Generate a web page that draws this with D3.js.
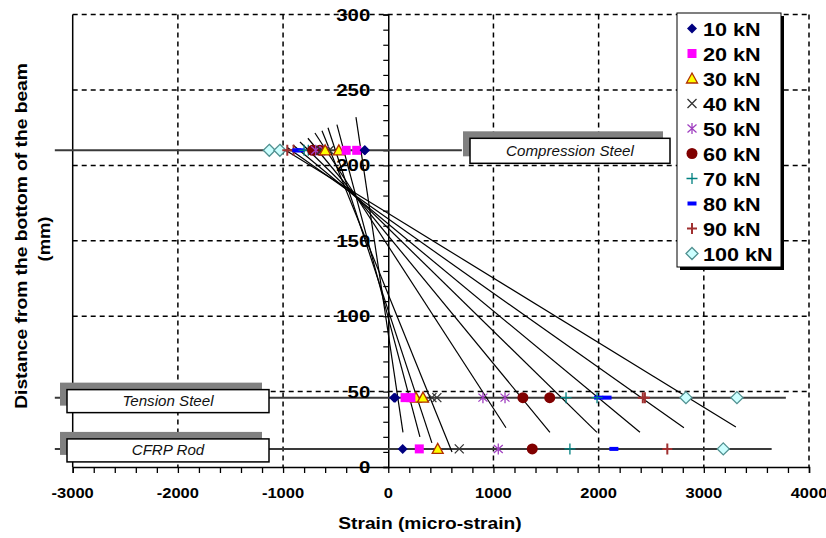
<!DOCTYPE html>
<html>
<head>
<meta charset="utf-8">
<script src="https://cdn.jsdelivr.net/npm/d3@7"></script>
<style>
  body { margin: 0; background: #fff; }
  text { font-family: "Liberation Sans", Arial, sans-serif; }
</style>
</head>
<body>
<svg id="chart" width="826" height="538"></svg>
<script>
// load steps
const loads = ["10 kN", "20 kN", "30 kN", "40 kN", "50 kN", "60 kN", "70 kN", "80 kN", "90 kN", "100 kN"];
const markerTypes = ["diamond", "square", "triangle", "x", "star", "circle", "plus", "dash", "plus2", "diamond2"];

// gauge heights (mm from bottom)
const compDepth = 210, tensDepth = 46, cfrpDepth = 12;

// measured strains, two gauges at each steel layer
const compStrain = [[-221, -225], [-400, -300], [-600, -470], [-640, -560], [-690, -610],
                    [-720, -650], [-800, -760], [-870, -840], [-960, -900], [-1131, -1030]];
const tensStrain = [[55, 65], [160, 215], [263, 330], [415, 462], [900, 1110],
                    [1280, 1535], [1690, 1985], [2000, 2080], [2420, 2440], [2830, 3315]];
const cfrpStrain = [137, 295, 470, 675, 1046, 1369, 1727, 2145, 2653, 3185];

// fitted strain profiles: [strain, depth] at top and bottom end
const fitTop = [[-307, 232], [-488, 227], [-573, 225], [-630, 223], [-697, 221.5],
                [-764, 218], [-839, 215.5], [-906, 213.5], [-963, 212], [-1011, 211.5]];
const fitBot = [[140, 23], [301, 20], [415, 16], [606, 10], [1119, 26],
                [1537, 23], [1984, 23], [2393, 23], [2811, 26], [3305, 26.5]];

// reference lines for the bars: [from, to] in strain
const compLine = [-3170, 700], tensLine = [-3170, 3780], cfrpLine = [-3170, 3645];

const xTicks = [-3000, -2000, -1000, 0, 1000, 2000, 3000, 4000];
const yTicks = [0, 50, 100, 150, 200, 250, 300];

let cfg = {
  width: 826,
  height: 538,
  left: 72.7,
  right: 809,
  top: 14.6,
  bottom: 467,
  svg: d3.select("#chart")
};

let x = d3.scaleLinear().domain([-3000, 4000]).range([cfg.left, cfg.right]);
let y = d3.scaleLinear().domain([0, 300]).range([cfg.bottom, cfg.top]);

let svg = cfg.svg;

// stretch text a bit, the source font is wider than Arial
function widen(sel, k) {
  sel.each(function() {
    let w = this.getComputedTextLength();
    d3.select(this).attr("textLength", w * k).attr("lengthAdjust", "spacingAndGlyphs");
  });
}

// grid
let grid = svg.append("g").attr("stroke", "#000").attr("stroke-width", 1.5)
  .attr("stroke-dasharray", "5,4");
grid.selectAll(".gx").data(xTicks.filter(d => d !== 0 && d !== -3000)).enter()
  .append("line")
  .attr("x1", d => x(d)).attr("x2", d => x(d))
  .attr("y1", y(300)).attr("y2", y(0));
grid.selectAll(".gy").data(yTicks.filter(d => d !== 0)).enter()
  .append("line")
  .attr("x1", x(-3000)).attr("x2", x(4000))
  .attr("y1", d => y(d)).attr("y2", d => y(d));

// left frame
svg.append("line")
  .attr("x1", x(-3000)).attr("x2", x(-3000)).attr("y1", y(300)).attr("y2", y(0))
  .attr("stroke", "#000").attr("stroke-width", 1.5);

// x axis with minor ticks
let xAxis = svg.append("g").attr("transform", `translate(0,${y(0)})`)
  .call(d3.axisBottom(x).tickValues(d3.range(-3000, 4001, 200)).tickSize(6).tickFormat(""));
xAxis.select(".domain").attr("stroke-width", 1.5);
xAxis.selectAll(".tick line").attr("stroke-width", 1.3);

// y axis at zero strain
let yAxis = svg.append("g").attr("transform", `translate(${x(0)},0)`)
  .call(d3.axisLeft(y).tickValues(d3.range(0, 301, 10)).tickSize(5).tickFormat(""));
yAxis.select(".domain").attr("stroke-width", 1.5);
yAxis.selectAll(".tick line").attr("stroke-width", 1.2);

// steel / rod reference lines
let refLines = [[compLine, compDepth], [tensLine, tensDepth], [cfrpLine, cfrpDepth]];
svg.selectAll(".ref").data(refLines).enter()
  .append("line")
  .attr("x1", d => x(d[0][0])).attr("x2", d => x(d[0][1]))
  .attr("y1", d => y(d[1])).attr("y2", d => y(d[1]))
  .attr("stroke", "#3a3a3a").attr("stroke-width", 2);

// fitted lines
svg.selectAll(".fit").data(loads).enter()
  .append("line")
  .attr("x1", (d, i) => x(fitTop[i][0])).attr("y1", (d, i) => y(fitTop[i][1]))
  .attr("x2", (d, i) => x(fitBot[i][0])).attr("y2", (d, i) => y(fitBot[i][1]))
  .attr("stroke", "#000").attr("stroke-width", 1.2);

function drawMarker(g, type) {
  switch (type) {
    case "diamond":
      g.append("path").attr("d", "M0,-5L5,0L0,5L-5,0Z").attr("fill", "#000080");
      break;
    case "square":
      g.append("rect").attr("x", -4.5).attr("y", -4.5).attr("width", 9).attr("height", 9).attr("fill", "#ff00ff");
      break;
    case "triangle":
      g.append("path").attr("d", "M0,-5.5L5.5,4.5L-5.5,4.5Z").attr("fill", "#ffff00")
        .attr("stroke", "#b03000").attr("stroke-width", 1.3);
      break;
    case "x":
      g.append("path").attr("d", "M-4.5,-4.5L4.5,4.5M-4.5,4.5L4.5,-4.5").attr("stroke", "#333").attr("stroke-width", 1.3);
      break;
    case "star":
      g.append("path").attr("d", "M-4.5,-4L4.5,4M-4.5,4L4.5,-4M0,-5.5V5.5").attr("stroke", "#a040c0").attr("stroke-width", 1.3);
      break;
    case "circle":
      g.append("circle").attr("r", 5.5).attr("fill", "#800000");
      break;
    case "plus":
      g.append("path").attr("d", "M-5.5,0H5.5M0,-5.5V5.5").attr("stroke", "#008080").attr("stroke-width", 1.3);
      break;
    case "dash":
      g.append("rect").attr("x", -4.5).attr("y", -2).attr("width", 9).attr("height", 4).attr("fill", "#0000ff");
      break;
    case "plus2":
      g.append("path").attr("d", "M-5,0H5M0,-5.5V5.5").attr("stroke", "#a03030").attr("stroke-width", 2);
      break;
    case "diamond2":
      g.append("path").attr("d", "M0,-6L6,0L0,6L-6,0Z").attr("fill", "#ccffff")
        .attr("stroke", "#509090").attr("stroke-width", 1.3);
      break;
  }
}

// points: series drawn in legend order
let points = [];
loads.forEach((l, i) => {
  compStrain[i].forEach(s => points.push({ i: i, s: s, d: compDepth }));
  tensStrain[i].forEach(s => points.push({ i: i, s: s, d: tensDepth }));
  points.push({ i: i, s: cfrpStrain[i], d: cfrpDepth });
});
points.sort((a, b) => b.i - a.i);
svg.selectAll(".pt").data(points).enter()
  .append("g")
  .attr("transform", d => `translate(${x(d.s)},${y(d.d)})`)
  .each(function(d) { drawMarker(d3.select(this), markerTypes[d.i]); });

// label boxes
const boxLabels = ["Compression Steel", "Tension Steel", "CFRP Rod"];
let boxes = [
  { text: boxLabels[0], x0: 470, w: 200, d: compDepth, h: 25 },
  { text: boxLabels[1], x0: 67, w: 202, d: tensDepth, h: 23 },
  { text: boxLabels[2], x0: 67, w: 202, d: cfrpDepth, h: 23 }
];
boxes.forEach(b => {
  let top = y(b.d) - 11;
  if (b.d === compDepth) top = y(b.d) - 12;
  if (b.d === tensDepth) top = y(b.d) - 8;
  if (b.d === cfrpDepth) top = y(b.d) - 10;
  svg.append("rect").attr("x", b.x0 - 7).attr("y", top - 7).attr("width", b.w).attr("height", b.h)
    .attr("fill", "#808080");
  svg.append("rect").attr("x", b.x0).attr("y", top).attr("width", b.w).attr("height", b.h)
    .attr("fill", "#fff").attr("stroke", "#000").attr("stroke-width", 1.5);
  svg.append("text").attr("x", b.x0 + b.w / 2).attr("y", top + b.h / 2 + 5)
    .attr("text-anchor", "middle").attr("font-style", "italic").attr("font-size", 14)
    .attr("fill", "#111").text(b.text).call(widen, 1.08);
});

// tick labels
svg.selectAll(".xl").data(xTicks).enter()
  .append("text")
  .attr("x", d => x(d)).attr("y", y(0) + 31)
  .attr("text-anchor", "middle").attr("font-weight", "bold").attr("font-size", 15)
  .text(d => d).call(widen, 1.1);
svg.selectAll(".yl").data(yTicks).enter()
  .append("text")
  .attr("x", x(0) - 18).attr("y", d => y(d) + 6)
  .attr("text-anchor", "end").attr("font-weight", "bold").attr("font-size", 17)
  .text(d => d).call(widen, 1.2);

// axis titles
svg.append("text").attr("x", 430).attr("y", 529)
  .attr("text-anchor", "middle").attr("font-weight", "bold").attr("font-size", 16)
  .text("Strain (micro-strain)").call(widen, 1.2);
let yt = svg.append("text").attr("transform", "translate(27,236) rotate(-90)")
  .attr("text-anchor", "middle").attr("font-weight", "bold").attr("font-size", 16);
yt.append("tspan").attr("x", 0).attr("y", 0).text("Distance from the bottom of the beam");
svg.append("text").attr("transform", "translate(50,239) rotate(-90)")
  .attr("text-anchor", "middle").attr("font-weight", "bold").attr("font-size", 16)
  .text("(mm)").call(widen, 1.15);
yt.select("tspan").each(function() {
  let w = this.getComputedTextLength();
  d3.select(this).attr("textLength", w * 1.2).attr("lengthAdjust", "spacingAndGlyphs");
});

// legend
let legend = svg.append("g").attr("transform", "translate(677,13)");
legend.append("rect").attr("x", 3).attr("y", 3).attr("width", 104).attr("height", 254).attr("fill", "#000");
legend.append("rect").attr("width", 104).attr("height", 254).attr("fill", "#fff")
  .attr("stroke", "#000").attr("stroke-width", 1);
let items = legend.selectAll(".li").data(loads).enter()
  .append("g")
  .attr("transform", (d, i) => `translate(0,${15.5 + i * 25})`);
items.append("g").attr("transform", "translate(15,0)")
  .each(function(d, i) { drawMarker(d3.select(this), markerTypes[i]); });
items.append("text").attr("x", 26).attr("y", 7)
  .attr("font-weight", "bold").attr("font-size", 18)
  .text(d => d).call(widen, 1.2);
</script>
</body>
</html>
